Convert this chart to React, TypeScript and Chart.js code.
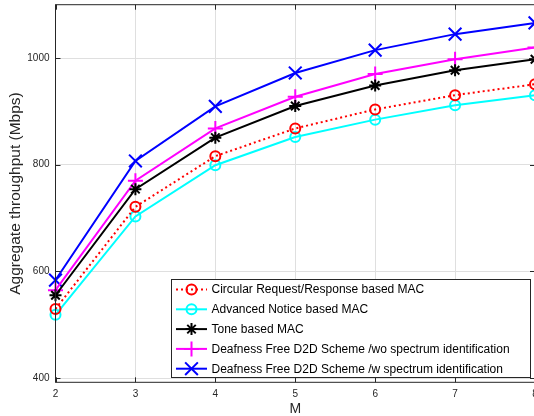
import React, { useEffect, useRef } from 'react';
import { Chart, registerables } from 'chart.js';

Chart.register(...registerables);

// ---- data ----
const mValues = [2, 3, 4, 5, 6, 7, 8];
const circularRR = [529.6, 721, 816, 868, 903.6, 930.4, 950.9];
const advancedNotice = [518.6, 703, 799, 852, 884.5, 911.3, 930.4];
const toneBased = [555.2, 754.2, 850.7, 910, 948.4, 977.1, 997.6];
const dfWithout = [564.8, 770, 868, 927.3, 970, 997.6, 1019.9];
const dfWith = [583.7, 807, 909.4, 972, 1014.8, 1044.8, 1065.9];
const xTicks = [2, 3, 4, 5, 6, 7, 8];
const yTicks = [400, 600, 800, 1000];
const seriesLabels = [
  'Circular Request/Response based MAC',
  'Advanced Notice based MAC',
  'Tone based MAC',
  'Deafness Free D2D Scheme /wo spectrum identification',
  'Deafness Free D2D Scheme /w spectrum identification',
];
const xTitle = 'M';
const yTitle = 'Aggregate throughput (Mbps)';

const seriesValues = [circularRR, advancedNotice, toneBased, dfWithout, dfWith];
const seriesColors = ['#ff0000', '#00ffff', '#000000', '#ff00ff', '#0000ff'];
const seriesMarkers = ['circle', 'circle', 'star', 'cross', 'crossRot'];
const seriesRadius = [5, 5, 6, 7.5, 9];
const seriesDash = [[2, 3], [], [], [], []];

function drawMarker(ctx: CanvasRenderingContext2D, style: string, x: number, y: number, r: number, color: string) {
  ctx.save();
  ctx.setLineDash([]);
  ctx.strokeStyle = color;
  ctx.lineWidth = 2;
  ctx.beginPath();
  const d = Math.cos(Math.PI / 4) * r;
  if (style === 'circle') {
    ctx.arc(x, y, r, 0, Math.PI * 2);
  } else {
    if (style === 'cross' || style === 'star') {
      ctx.moveTo(x - r, y); ctx.lineTo(x + r, y);
      ctx.moveTo(x, y - r); ctx.lineTo(x, y + r);
    }
    if (style === 'crossRot' || style === 'star') {
      ctx.moveTo(x - d, y - d); ctx.lineTo(x + d, y + d);
      ctx.moveTo(x - d, y + d); ctx.lineTo(x + d, y - d);
    }
  }
  ctx.stroke();
  ctx.restore();
}

const framePlugin = {
  id: 'frame',
  afterDatasetsDraw(chart: any) {
    const { ctx, chartArea: a, scales } = chart;
    const xs = scales.x;
    const ys = scales.y;
    ctx.save();
    ctx.strokeStyle = '#262626';
    ctx.lineWidth = 1;
    ctx.setLineDash([]);
    ctx.strokeRect(a.left, a.top, a.right - a.left, a.bottom - a.top);
    const tl = 5;
    ctx.beginPath();
    xTicks.forEach((v) => {
      const px = Math.round(xs.getPixelForValue(v)) + 0.5;
      ctx.moveTo(px, a.bottom); ctx.lineTo(px, a.bottom - tl);
      ctx.moveTo(px, a.top); ctx.lineTo(px, a.top + tl);
    });
    yTicks.forEach((v) => {
      const py = Math.round(ys.getPixelForValue(v)) + 0.5;
      ctx.moveTo(a.left, py); ctx.lineTo(a.left + tl, py);
      ctx.moveTo(a.right, py); ctx.lineTo(a.right - tl, py);
    });
    ctx.stroke();

    // legend
    const lx = 171.5, ly = 279.5, lw = 359, lh = 98;
    ctx.fillStyle = '#ffffff';
    ctx.fillRect(lx, ly, lw, lh);
    ctx.strokeStyle = '#262626';
    ctx.strokeRect(lx, ly, lw, lh);
    ctx.font = '12px "Liberation Sans", Arial, sans-serif';
    ctx.textBaseline = 'middle';
    ctx.textAlign = 'left';
    seriesLabels.forEach((label, i) => {
      const cy = 289.5 + i * 19.8;
      ctx.save();
      ctx.strokeStyle = seriesColors[i];
      ctx.lineWidth = 2;
      ctx.setLineDash(seriesDash[i]);
      ctx.beginPath();
      ctx.moveTo(176, cy); ctx.lineTo(207, cy);
      ctx.stroke();
      ctx.restore();
      drawMarker(ctx, seriesMarkers[i], 191.5, cy, seriesRadius[i], seriesColors[i]);
      ctx.fillStyle = '#000000';
      ctx.fillText(label, 211.5, cy + 0.5);
    });
    ctx.restore();
  },
};

export default function App() {
  const canvasRef = useRef<HTMLCanvasElement | null>(null);
  useEffect(() => {
    if (!canvasRef.current) return;
    Chart.defaults.font.family = '"Liberation Sans", Arial, sans-serif';
    const chart = new Chart(canvasRef.current, {
      type: 'line',
      data: {
        datasets: seriesValues.map((vals, i) => ({
          label: seriesLabels[i],
          data: vals.map((v, j) => ({ x: mValues[j], y: v })),
          borderColor: seriesColors[i],
          backgroundColor: 'rgba(0,0,0,0)',
          borderWidth: 2,
          borderDash: seriesDash[i],
          pointStyle: seriesMarkers[i] as any,
          pointRadius: seriesRadius[i],
          pointBorderWidth: 2,
          pointBorderColor: seriesColors[i],
          pointBackgroundColor: 'rgba(0,0,0,0)',
          tension: 0,
          clip: false as any,
        })),
      },
      options: {
        animation: false,
        responsive: false,
        devicePixelRatio: 1,
        layout: { autoPadding: false, padding: { left: 0, top: 4.7, right: 25, bottom: 0 } },
        plugins: { legend: { display: false }, tooltip: { enabled: false } },
        scales: {
          x: {
            type: 'linear',
            min: 2,
            max: 8,
            afterBuildTicks: (s: any) => { s.ticks = xTicks.map((v) => ({ value: v })); },
            afterFit: (s: any) => { s.height = 33.7; s.paddingLeft = 0; s.paddingRight = 0; },
            grid: { color: '#dfdfdf', drawTicks: false },
            border: { display: false },
            ticks: { padding: 6, font: { size: 10 }, color: '#262626', autoSkip: false, maxRotation: 0, callback: (v: any) => String(v) },
            title: { display: true, text: xTitle, font: { size: 14, lineHeight: 1 }, color: '#262626', padding: { top: 0, bottom: 0 } },
          },
          y: {
            type: 'linear',
            min: 392,
            max: 1100,
            afterBuildTicks: (s: any) => { s.ticks = yTicks.map((v) => ({ value: v })); },
            afterFit: (s: any) => { s.width = 55.5; s.paddingTop = 0; s.paddingBottom = 0; },
            grid: { color: '#dfdfdf', drawTicks: false },
            border: { display: false },
            ticks: { padding: 6, font: { size: 10 }, color: '#262626', autoSkip: false, callback: (v: any) => String(v) },
            title: { display: true, text: yTitle, font: { size: 15.5, lineHeight: 1.2 }, color: '#262626', padding: { top: 6, bottom: 0 } },
          },
        },
      },
      plugins: [framePlugin],
    });
    return () => chart.destroy();
  }, []);
  return (
    <div style={{ position: 'fixed', left: 0, top: 0, width: 534, height: 416, overflow: 'hidden', background: '#fff' }}>
      <canvas ref={canvasRef} width={560} height={416} style={{ display: 'block' }} />
    </div>
  );
}
